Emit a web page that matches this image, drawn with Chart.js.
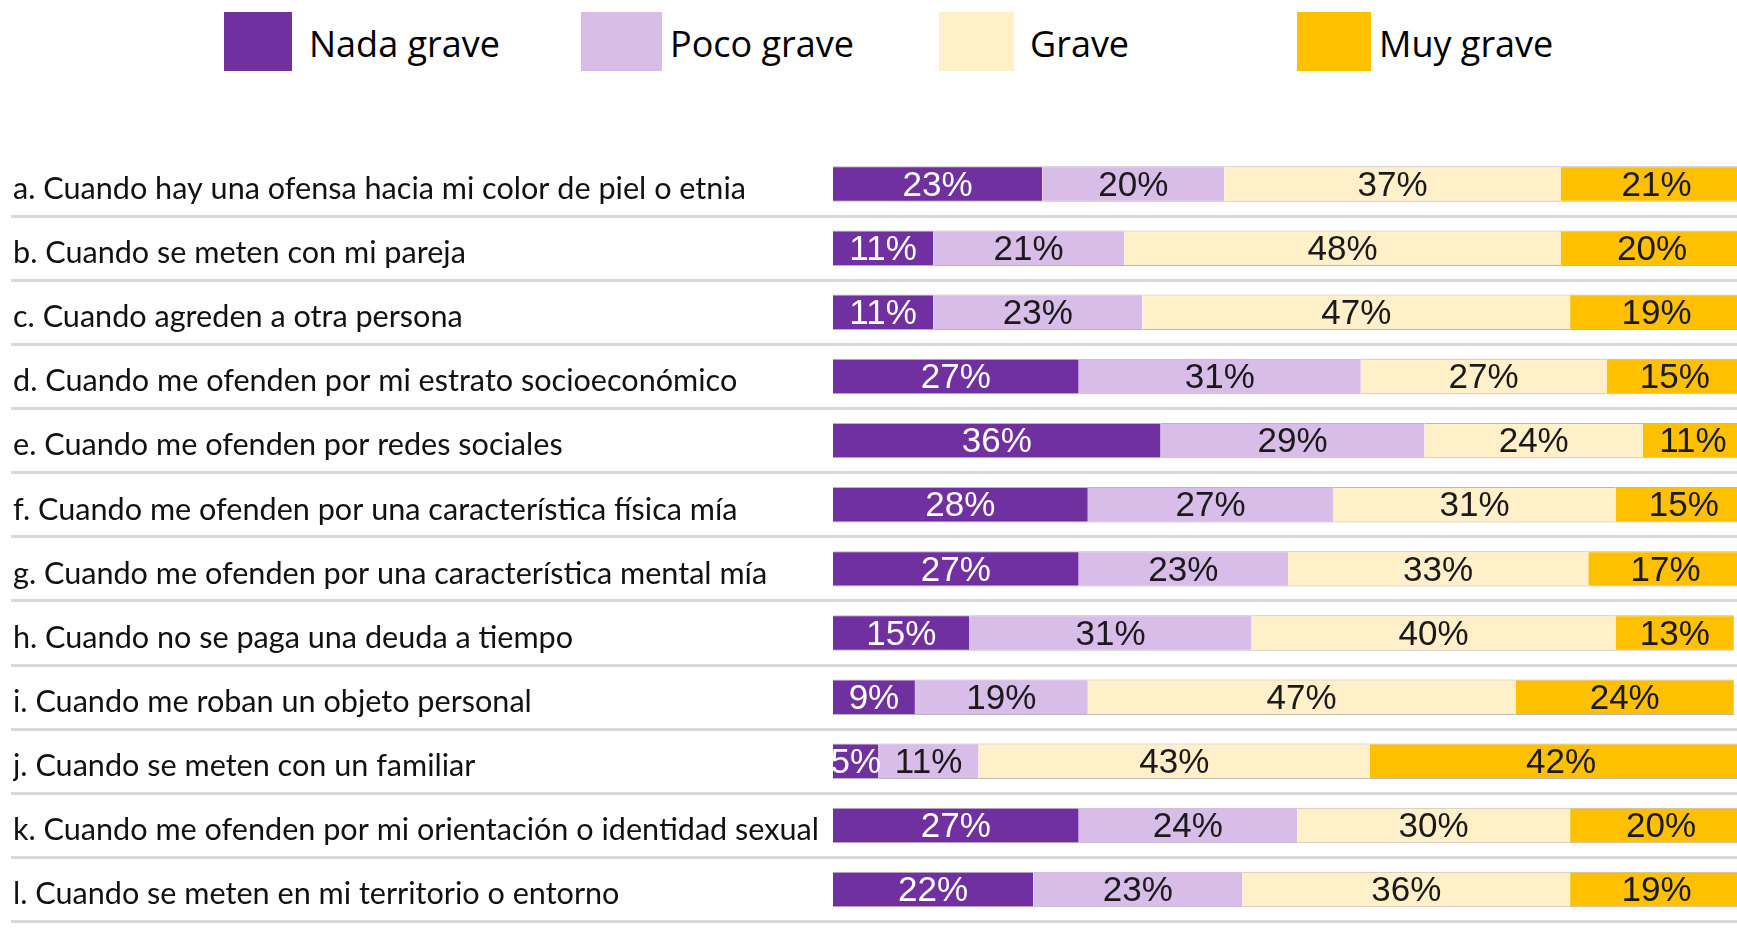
<!DOCTYPE html>
<html><head><meta charset="utf-8">
<script src="https://cdn.jsdelivr.net/npm/chart.js@4/dist/chart.umd.min.js"></script>
<style>
html,body{margin:0;padding:0;background:#fff;overflow:hidden;width:1737px;height:929px;}
#c{position:absolute;left:0;top:0;}
#legend{position:absolute;left:0;top:0;width:1737px;height:100px;}
.li{position:absolute;top:12px;height:59px;display:flex;align-items:center;}
.sw{height:59px;flex:none;}
.lt{font-family:"Open Sans";font-size:36px;color:#000;white-space:nowrap;line-height:59px;padding-top:4px;}
</style>
</head><body>
<div id="legend"></div>
<canvas id="c" width="1745" height="940"></canvas>
<script>
const categories = [
  "a. Cuando hay una ofensa hacia mi color de piel o etnia",
  "b. Cuando se meten con mi pareja",
  "c. Cuando agreden a otra persona",
  "d. Cuando me ofenden por mi estrato socioeconómico",
  "e. Cuando me ofenden por redes sociales",
  "f. Cuando me ofenden por una característica física mía",
  "g. Cuando me ofenden por una característica mental mía",
  "h. Cuando no se paga una deuda a tiempo",
  "i. Cuando me roban un objeto personal",
  "j. Cuando se meten con un familiar",
  "k. Cuando me ofenden por mi orientación o identidad sexual",
  "l. Cuando se meten en mi territorio o entorno"
];
const seriesNames = ["Nada grave", "Poco grave", "Grave", "Muy grave"];
const nadaGrave = [23, 11, 11, 27, 36, 28, 27, 15, 9, 5, 27, 22];
const pocoGrave = [20, 21, 23, 31, 29, 27, 23, 31, 19, 11, 24, 23];
const grave     = [37, 48, 47, 27, 24, 31, 33, 40, 47, 43, 30, 36];
const muyGrave  = [21, 20, 19, 15, 11, 15, 17, 13, 24, 42, 20, 19];
const seriesColors = ["#7030a0", "#d8bde9", "#fff0c9", "#ffc000"];
const labelColors = ["#ffffff", "#1a1a1a", "#1a1a1a", "#1a1a1a"];

const seriesData = [nadaGrave, pocoGrave, grave, muyGrave];

// HTML legend
const legendLeft = [224, 581, 939, 1297];
const legendBoxW = [68, 81, 75, 74];
const legendGap = [17, 8, 16, 8];
const lg = document.getElementById('legend');
seriesNames.forEach((n, i) => {
  const d = document.createElement('div');
  d.className = 'li';
  d.style.left = legendLeft[i] + 'px';
  d.innerHTML = '<div class="sw" style="width:' + legendBoxW[i] + 'px;background:' + seriesColors[i] + '"></div>' +
    '<span class="lt" style="margin-left:' + legendGap[i] + 'px">' + n + '</span>';
  lg.appendChild(d);
});

const valueLabels = {
  id: 'valueLabels',
  afterDatasetsDraw(chart) {
    const ctx = chart.ctx;
    ctx.save();
    ctx.font = '35px "Liberation Sans", Arial, sans-serif';
    ctx.textAlign = 'center';
    ctx.textBaseline = 'middle';
    chart.data.datasets.forEach((ds, di) => {
      const meta = chart.getDatasetMeta(di);
      ctx.fillStyle = labelColors[di];
      meta.data.forEach((bar, i) => {
        const v = ds.data[i];
        const cx = (bar.x + bar.base) / 2;
        ctx.fillText(v + '%', cx, bar.y + 2);
      });
    });
    ctx.restore();
  }
};

new Chart(document.getElementById('c'), {
  type: 'bar',
  data: {
    labels: categories,
    datasets: seriesNames.map((n, i) => ({
      label: n,
      data: seriesData[i],
      backgroundColor: seriesColors[i],
      borderColor: '#b8b8b8',
      borderWidth: {top: 1, bottom: 1, left: 0, right: 0},
      borderSkipped: false,
      barPercentage: 0.553,
      categoryPercentage: 1
    }))
  },
  options: {
    indexAxis: 'y',
    responsive: false,
    animation: false,
    layout: {padding: {left: 13, right: 2, top: 152, bottom: 4}},
    plugins: {legend: {display: false}, tooltip: {enabled: false}},
    scales: {
      x: {stacked: true, min: 0, max: 100, display: false},
      y: {
        stacked: true,
        border: {display: false},
        grid: {
          offset: true,
          color: (c) => c.index === 0 ? 'rgba(0,0,0,0)' : '#d9d9d9',
          lineWidth: 3,
          drawTicks: true,
          tickLength: 822
        },
        ticks: {
          crossAlign: 'far',
          padding: 0,
          labelOffset: 5,
          color: '#111',
          font: {family: 'Lato', size: 30.6}
        },
        afterFit: (s) => { s.width = 820; }
      }
    }
  },
  plugins: [valueLabels]
});
</script>
</body></html>
